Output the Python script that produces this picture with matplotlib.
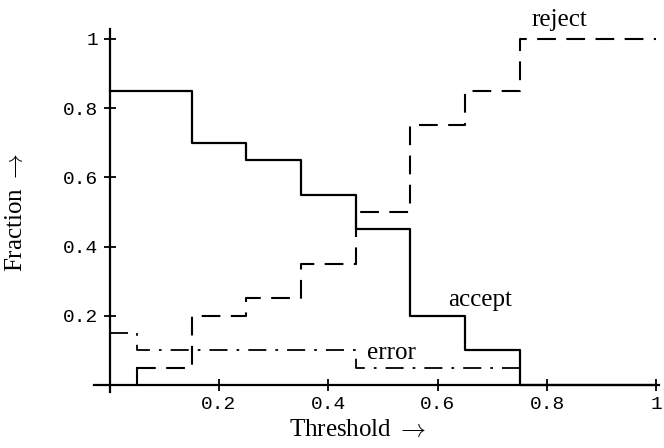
import matplotlib

matplotlib.use("Agg")
import matplotlib.pyplot as plt

plt.rcParams["mathtext.fontset"] = "cm"

# step edges (threshold) and the fraction held until the next edge
accept_x = [0.0, 0.15, 0.25, 0.35, 0.45, 0.55, 0.65, 0.75, 1.0]
accept_y = [0.85, 0.70, 0.65, 0.55, 0.45, 0.20, 0.10, 0.0, 0.0]

reject_x = [0.05, 0.15, 0.25, 0.35, 0.45, 0.55, 0.65, 0.75, 1.0]
reject_y = [0.05, 0.20, 0.25, 0.35, 0.50, 0.75, 0.85, 1.0, 1.0]

error_x = [0.0, 0.05, 0.45, 0.75]
error_y = [0.15, 0.10, 0.05, 0.05]

ticks = [0.2, 0.4, 0.6, 0.8, 1.0]
tick_labels = ["0.2", "0.4", "0.6", "0.8", "1"]

SERIF = ["Liberation Serif", "DejaVu Serif"]
MONO = ["Liberation Mono", "DejaVu Sans Mono"]

fig = plt.figure(figsize=(6.64, 4.48), dpi=100)
ax = fig.add_axes([0.1423, 0.1252, 0.8505, 0.811])

ax.step(accept_x, accept_y, where="post", color="black", linewidth=1.6)
ax.step(reject_x, reject_y, where="post", color="black", linewidth=1.5,
        dashes=(9, 5))
ax.plot([reject_x[0], reject_x[0]], [0.0, reject_y[0]], color="black",
        linewidth=1.5)
ax.step(error_x, error_y, where="post", color="black", linewidth=1.3,
        dashes=(10, 5, 1.5, 5))

ax.set_xlim(-0.0275, 1.005)
ax.set_ylim(-0.02, 1.03)
for side in ("top", "right"):
    ax.spines[side].set_visible(False)
ax.spines["left"].set_position(("data", 0))
ax.spines["bottom"].set_position(("data", 0))
for side in ("left", "bottom"):
    ax.spines[side].set_linewidth(1.6)

ax.set_xticks(ticks)
ax.set_xticklabels(tick_labels, family=MONO, fontsize=14)
ax.set_yticks(ticks)
ax.set_yticklabels(tick_labels, family=MONO, fontsize=14)
ax.tick_params(direction="inout", length=8, width=1.3, pad=4)

fig.text(0.539, 0.040, "Threshold$\\;\\rightarrow$", family=SERIF,
         fontsize=18, ha="center", va="center")
fig.text(0.024, 0.526, "Fraction$\\;\\rightarrow$", family=SERIF,
         fontsize=18, rotation=90, ha="center", va="center")

ax.text(0.823, 1.055, "reject", family=SERIF, fontsize=18,
        ha="center", va="center")
ax.text(0.677, 0.245, "accept", family=SERIF, fontsize=18,
        ha="center", va="center")
ax.text(0.515, 0.093, "error", family=SERIF, fontsize=18,
        ha="center", va="center")

fig.savefig("out.png", dpi=100)
